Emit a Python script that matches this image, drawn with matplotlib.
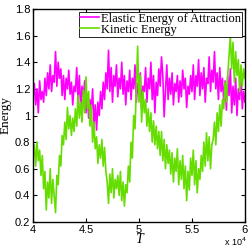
import numpy as np
import matplotlib
matplotlib.use("Agg")
import matplotlib.pyplot as plt

# Time grid (units of 1e4)
t_start, t_end = 4.0, 6.0

elastic = [
    1.15, 1.24, 1.08, 1.20, 1.02, 1.26, 1.12, 1.18,
    1.10, 1.28, 1.15, 1.32, 1.20, 1.38, 1.18, 1.30,
    1.25, 1.48, 1.22, 1.40, 1.28, 1.35, 1.15, 1.30,
    1.12, 1.28, 1.20, 1.34, 1.16, 1.25, 1.08, 1.22,
    1.18, 1.36, 1.12, 1.30, 1.05, 1.22, 1.14, 1.26,
    1.02, 1.16, 0.98, 1.12, 1.04, 1.20, 0.92, 1.08,
    0.89, 1.10, 1.00, 1.18, 1.05, 1.25, 1.12, 1.32,
    1.20, 1.49, 1.18, 1.36, 1.10, 1.30, 1.22, 1.38,
    1.14, 1.28, 1.20, 1.40, 1.16, 1.30, 1.08, 1.26,
    1.18, 1.34, 1.12, 1.28, 1.20, 1.38, 1.10, 1.24,
    1.15, 1.32, 1.05, 1.22, 1.18, 1.36, 1.10, 1.28,
    1.20, 1.40, 1.12, 1.30, 1.02, 1.25, 1.15, 1.35,
    1.22, 1.44, 1.30, 0.99, 1.18, 1.38, 1.12, 1.28,
    1.16, 1.32, 1.08, 1.24, 1.18, 1.30, 1.10, 1.26,
    1.14, 1.34, 1.20, 1.28, 1.06, 1.22, 1.16, 1.30,
    1.18, 1.38, 1.12, 1.30, 1.22, 1.42, 1.15, 1.32,
    1.20, 1.36, 1.10, 1.28, 1.24, 1.44, 1.18, 1.34,
    1.25, 1.48, 1.20, 1.32, 1.12, 1.36, 1.18, 1.28,
    1.10, 1.26, 1.04, 1.30, 1.15, 1.35, 1.02, 1.22,
    1.08, 1.28, 1.00, 1.20, 1.12, 1.32, 1.05, 1.18, 1.10,
]

kinetic = [
    0.68, 0.78, 0.62, 0.80, 0.66, 0.74, 0.55, 0.70,
    0.45, 0.58, 0.29, 0.50, 0.38, 0.60, 0.34, 0.52,
    0.40, 0.27, 0.55, 0.48, 0.70, 0.62, 0.85, 0.78,
    0.95, 0.82, 1.06, 0.90, 1.00, 0.85, 0.98, 0.88,
    1.05, 0.92, 1.15, 0.98, 1.10, 0.95, 1.19, 1.02,
    1.29, 1.05, 1.18, 0.92, 1.08, 0.80, 0.95, 0.75,
    0.84, 0.64, 0.78, 0.68, 0.82, 0.62, 0.76, 0.58,
    0.50, 0.34, 0.56, 0.42, 0.60, 0.38, 0.52, 0.45,
    0.55, 0.40, 0.58, 0.36, 0.50, 0.32, 0.48, 0.42,
    0.62, 0.50, 0.80, 0.68, 1.00, 0.90, 1.20, 1.52,
    1.10, 1.30, 0.95, 1.18, 1.02, 1.12, 0.92, 1.05,
    0.88, 1.02, 0.80, 0.96, 0.78, 0.92, 0.75, 0.88,
    0.70, 0.88, 0.66, 0.82, 0.60, 0.78, 0.64, 0.74,
    0.56, 0.72, 0.50, 0.68, 0.58, 0.75, 0.48, 0.66,
    0.52, 0.70, 0.45, 0.62, 0.36, 0.58, 0.44, 0.68,
    0.55, 0.74, 0.48, 0.66, 0.42, 0.60, 0.52, 0.70,
    0.58, 0.80, 0.62, 0.87, 0.66, 0.84, 0.60, 0.78,
    0.82, 0.95, 0.78, 1.02, 0.88, 1.08, 0.92, 1.12,
    1.05, 1.25, 1.10, 1.30, 1.45, 1.60, 1.35, 1.55,
    1.25, 1.48, 1.30, 1.42, 1.18, 1.38, 1.22, 1.35, 1.28,
]

series_labels = ["Elastic Energy of Attraction", "Kinetic Energy"]
x_ticks = [4, 4.5, 5, 5.5, 6]
x_tick_labels = ["4", "4.5", "5", "5.5", "6"]
y_ticks = [0.2, 0.4, 0.6, 0.8, 1.0, 1.2, 1.4, 1.6, 1.8]
y_tick_labels = ["0.2", "0.4", "0.6", "0.8", "1", "1.2", "1.4", "1.6", "1.8"]

t = np.linspace(t_start, t_end, len(elastic))

fig = plt.figure(figsize=(2.52, 2.50), dpi=100)
ax = fig.add_axes([0.131, 0.112, 0.841, 0.852])

ax.plot(t, elastic, color="#ff00ff", lw=1.2, label=series_labels[0])
ax.plot(t, kinetic, color="#66dd00", lw=1.2, label=series_labels[1])

ax.set_xlim(4, 6)
ax.set_ylim(0.2, 1.8)
ax.set_xticks(x_ticks)
ax.set_xticklabels(x_tick_labels, family="Liberation Sans", fontsize=8)
ax.set_yticks(y_ticks)
ax.set_yticklabels(y_tick_labels, family="Liberation Sans", fontsize=8)
ax.tick_params(direction="in", top=True, right=True, length=3, width=0.8, pad=2)
for s in ax.spines.values():
    s.set_linewidth(1.0)

ax.set_xlabel("T", family="Liberation Serif", style="italic", fontsize=10, labelpad=-1)
ax.set_ylabel("Energy", family="Liberation Serif", fontsize=9.5, labelpad=2)
fig.text(0.978, 0.01, r"x 10$^4$", ha="right", va="bottom",
         family="Liberation Sans", fontsize=6.5)

leg = ax.legend(loc="upper right", prop={"family": "Liberation Serif", "size": 9},
                frameon=True, fancybox=False, edgecolor="black", framealpha=1,
                handlelength=1.5, handletextpad=0.2, borderpad=0.1,
                labelspacing=-0.1, borderaxespad=0.2)
leg.get_frame().set_linewidth(0.6)

fig.savefig("out.png", dpi=100)
